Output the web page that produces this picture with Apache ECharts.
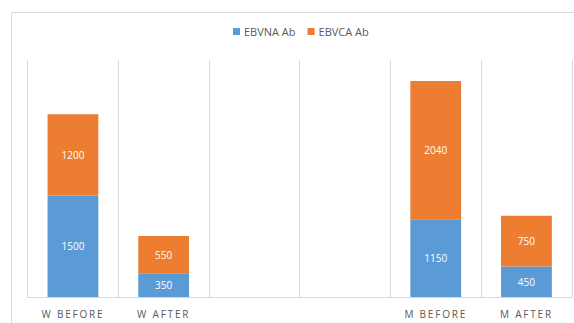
<!DOCTYPE html>
<html>
<head>
<meta charset="utf-8">
<script src="https://cdn.jsdelivr.net/npm/echarts@6/dist/echarts.min.js"></script>
<style>
  html, body { margin: 0; padding: 0; background: #ffffff; }
  #chart { width: 574px; height: 323px; }
</style>
</head>
<body>
<div id="chart"></div>
<script>
// Groups on the x axis (two unused slots between the W and M groups)
const categories = ['W BEFORE', 'W AFTER', '', '', 'M BEFORE', 'M AFTER'];
const seriesNames = ['EBVNA Ab', 'EBVCA Ab'];
const ebvnaValues = [1500, 350, null, null, 1150, 450];
const ebvcaValues = [1200, 550, null, null, 2040, 750];

const BLUE = '#5B9BD5';
const ORANGE = '#ED7D31';
const GRID = '#d9d9d9';
const TEXT = '#595959';
const FONT = '"Open Sans", "Noto Sans", sans-serif';

const chart = echarts.init(document.getElementById('chart'), null, { renderer: 'svg' });

const segmentLabel = {
  show: true,
  position: 'inside',
  color: '#ffffff',
  fontSize: 10,
  fontFamily: FONT
};

chart.setOption({
  animation: false,
  backgroundColor: '#ffffff',
  graphic: [{
    type: 'rect',
    shape: { x: 11.5, y: 12.5, width: 700, height: 400 },
    style: { fill: 'none', stroke: GRID, lineWidth: 1 },
    silent: true,
    z: -1
  }],
  legend: {
    data: seriesNames,
    left: 228,
    top: 21,
    icon: 'rect',
    itemWidth: 7,
    itemHeight: 7,
    itemGap: 12,
    textStyle: { color: TEXT, fontSize: 11, fontFamily: FONT, padding: [0, 0, 0, -1] }
  },
  grid: { left: 27.6, right: 2.2, top: 60, bottom: 26, containLabel: false },
  xAxis: {
    type: 'category',
    data: categories,
    boundaryGap: true,
    axisLine: { show: true, lineStyle: { color: GRID, width: 1 } },
    axisTick: { show: false },
    splitLine: { show: true, interval: 0, lineStyle: { color: GRID, width: 1 } },
    axisLabel: {
      interval: 0,
      color: TEXT,
      fontSize: 10,
      fontFamily: FONT,
      margin: 12
    }
  },
  yAxis: {
    type: 'value',
    min: 0,
    max: 3500,
    interval: 500,
    show: false,
    splitLine: { show: false }
  },
  series: [
    {
      name: seriesNames[0],
      type: 'bar',
      stack: 'total',
      barWidth: '56%',
      data: ebvnaValues,
      itemStyle: { color: BLUE },
      label: segmentLabel
    },
    {
      name: seriesNames[1],
      type: 'bar',
      stack: 'total',
      barWidth: '56%',
      data: ebvcaValues,
      itemStyle: { color: ORANGE },
      label: segmentLabel
    }
  ]
});

// Spread out the letters of the category labels
function spaceCategoryLabels() {
  const names = categories.filter(c => c);
  document.querySelectorAll('#chart text').forEach(t => {
    if (names.indexOf(t.textContent) >= 0) {
      t.style.letterSpacing = '1.8px';
    }
  });
}
chart.on('finished', spaceCategoryLabels);
spaceCategoryLabels();
</script>
</body>
</html>
